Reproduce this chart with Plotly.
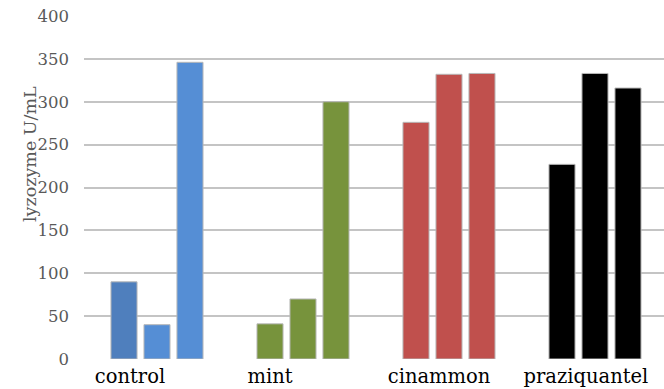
import plotly.graph_objects as go

# Lysozyme activity per treatment, three replicate series
groups = ["control", "mint", "cinammon", "praziquantel"]
rep1 = [90, 41, 276, 227]
rep2 = [40, 70, 332, 333]
rep3 = [346, 300, 333, 316]
y_ticks = [0, 50, 100, 150, 200, 250, 300, 350, 400]

# Per-bar fill colours (one row per replicate series)
colors1 = ["#4f7fbd", "#77933c", "#c0504d", "#000000"]
colors2 = ["#558ed5", "#77933c", "#c0504d", "#000000"]
colors3 = ["#558ed5", "#77933c", "#c0504d", "#000000"]

# Horizontal nudge of each group label relative to its bar group (category units)
label_shift = [-0.185, -0.226, -0.068, -0.062]

xs = list(range(len(groups)))
fig = go.Figure()
for vals, cols in ((rep1, colors1), (rep2, colors2), (rep3, colors3)):
    fig.add_trace(go.Bar(
        x=xs, y=vals,
        marker=dict(color=cols, line=dict(color="#b8b8b8", width=1)),
        hoverinfo="y",
    ))

serif = "DejaVu Serif"
fig.update_layout(
    width=664, height=389,
    margin=dict(l=84, r=0, t=16, b=30),
    paper_bgcolor="white", plot_bgcolor="white",
    barmode="group", bargap=0.322, bargroupgap=0.21,
    showlegend=False,
    xaxis=dict(
        range=[-0.5, -0.5 + 580 / 146],
        tickvals=[i + s for i, s in zip(xs, label_shift)],
        ticktext=groups,
        tickfont=dict(family=serif, size=19.5, color="#000000"),
        showgrid=False, zeroline=False, showline=False,
        ticks="", ticklabelstandoff=3,
    ),
    yaxis=dict(
        range=[0, 400],
        tickvals=y_ticks,
        tickfont=dict(family=serif, size=16.5, color="#595959"),
        showgrid=True, gridcolor="#c4c4c4", gridwidth=1.5,
        zeroline=False, showline=False,
        ticks="", ticklabelstandoff=14,
    ),
    annotations=[dict(
        text="lyzozyme U/mL",
        xref="paper", yref="paper",
        x=-54 / 580, y=(359 - 154) / 343,
        xanchor="center", yanchor="middle",
        textangle=-90, showarrow=False,
        font=dict(family=serif, size=17.5, color="#595959"),
    )],
)

fig.write_html("out.html")
